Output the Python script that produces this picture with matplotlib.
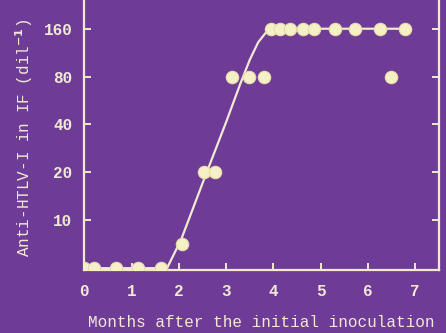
import numpy as np
import matplotlib
matplotlib.use("Agg")
import matplotlib.pyplot as plt

# measured points: months after inoculation, titer level (0 = <10, 1 = 10, 2 = 20 ... 5 = 160)
months = [0.0, 0.21, 0.68, 1.13, 1.62, 2.06, 2.53, 2.77,
          3.13, 3.49, 3.81, 3.94, 4.15, 4.36, 4.62, 4.85,
          5.30, 5.72, 6.26, 6.79, 6.49]
level = [0, 0, 0, 0, 0, 0.5, 2, 2,
         4, 4, 4, 5, 5, 5, 5, 5,
         5, 5, 5, 5, 4]

# fitted curve
curve_x = [0.0, 1.75, 2.05, 2.55, 3.0, 3.3, 3.5, 3.68, 3.85, 4.0, 6.8]
curve_y = [0.0, 0.0, 0.6, 1.9, 3.05, 3.85, 4.35, 4.72, 4.93, 5.0, 5.0]

ytick_pos = [1, 2, 3, 4, 5]
ytick_lab = ["10", "20", "40", "80", "160"]
xtick_pos = [0, 1, 2, 3, 4, 5, 6, 7]

bg = "#6e3b97"
fg = "#f1e9d2"
dot = "#f6f0c6"

plt.rcParams["font.family"] = ["Liberation Mono", "DejaVu Sans Mono"]
plt.rcParams["font.weight"] = "bold"

fig = plt.figure(figsize=(4.46, 3.33), dpi=100, facecolor=bg)
ax = fig.add_axes([0.189, 0.189, 0.795, 0.811], facecolor=bg)

ax.plot(curve_x, curve_y, color=fg, lw=1.6, zorder=2)
ax.scatter(months, level, s=80, color=dot, edgecolors="#e8dca8", linewidths=0.8, zorder=3)

ax.set_xlim(0, 7.5)
ax.set_ylim(-0.04, 5.6)

for side in ["left", "bottom", "right"]:
    ax.spines[side].set_color(fg)
    ax.spines[side].set_linewidth(1.6)
ax.spines["top"].set_visible(False)

ax.set_yticks(ytick_pos)
ax.set_yticklabels(ytick_lab)
ax.set_xticks(xtick_pos)
ax.set_xticklabels([str(v) for v in xtick_pos])
ax.tick_params(axis="y", direction="in", length=5, width=1.4, color=fg,
               labelcolor=fg, labelsize=11.5, right=True, pad=8.5)
ax.tick_params(axis="x", direction="in", length=5, width=1.4, color=fg,
               labelcolor=fg, labelsize=11.5, pad=10)

ax.set_xlabel("Months after the initial inoculation", color=fg, fontsize=11.5)
ax.xaxis.set_label_coords(0.5, -0.165)
ax.set_ylabel("Anti-HTLV-I in IF (dil$^{-1}$)", color=fg, fontsize=11.5)
ax.yaxis.set_label_coords(-0.138, 0.49)

fig.savefig("out.png", dpi=100, facecolor=bg)
